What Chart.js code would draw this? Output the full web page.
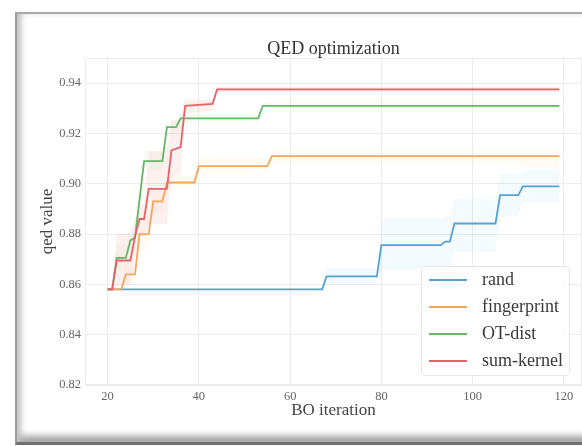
<!DOCTYPE html>
<html lang="en">
<head>
    <meta charset="UTF-8">
    <title>QED optimization</title>
    <script src="https://cdn.jsdelivr.net/npm/chart.js@4.4.1/dist/chart.umd.min.js"></script>
    <style>
        html, body {
            margin: 0;
            padding: 0;
            width: 582px;
            height: 446px;
            overflow: hidden;
            background: #fff;
        }
        .frame {
            position: absolute;
            left: 15px;
            top: 12px;
            width: 600px;
            height: 428px;
            border-top: 2px solid #a9a9a9;
            border-left: 2px solid #9c9c9c;
            border-bottom: 3px solid #707070;
            box-shadow: inset 6px 0 6px -2px #c0c0c0, inset 0 -9px 7px -3px #a0a0a0;
            background: #fff;
        }
        #qedChart {
            position: absolute;
            left: 0;
            top: 0;
        }
    </style>
</head>
<body>
    <div class="frame"></div>
    <canvas id="qedChart" width="582" height="446"></canvas>

    <script>
        // values (iteration where the best-so-far changes)
        const seriesNames = ['rand', 'fingerprint', 'OT-dist', 'sum-kernel'];

        const randIter = [20, 67, 68, 79, 80, 93, 94, 95, 96, 105, 106, 110, 111, 119];
        const randQed  = [0.858, 0.858, 0.8632, 0.8632, 0.8756, 0.8756, 0.877, 0.877, 0.8842, 0.8842, 0.8955, 0.8955, 0.899, 0.899];
        const randHi   = [0.858, 0.858, 0.8665, 0.8665, 0.886, 0.886, 0.887, 0.887, 0.894, 0.894, 0.904, 0.904, 0.9055, 0.9055];
        const randLo   = [0.858, 0.858, 0.860, 0.860, 0.866, 0.866, 0.867, 0.867, 0.873, 0.873, 0.887, 0.887, 0.8925, 0.8925];

        const fpIter = [20, 23, 24, 26, 27, 29, 30, 32, 33, 39, 40, 55, 56, 110, 111, 119];
        const fpQed  = [0.858, 0.858, 0.864, 0.864, 0.880, 0.880, 0.893, 0.893, 0.9005, 0.9005, 0.907, 0.907, 0.911, 0.911, 0.911, 0.911];
        const fpHi   = [0.858, 0.860, 0.868, 0.868, 0.886, 0.886, 0.897, 0.897, 0.903, 0.903, 0.9105, 0.9105, 0.9135, 0.9135, 0.9135, 0.9135];
        const fpLo   = [0.858, 0.858, 0.860, 0.860, 0.874, 0.874, 0.888, 0.888, 0.898, 0.898, 0.904, 0.904, 0.9085, 0.9085, 0.9065, 0.9065];

        const otIter = [20, 21, 22, 24, 25, 26, 28, 32, 33, 35, 36, 53, 54, 119];
        const otQed  = [0.858, 0.858, 0.8705, 0.8705, 0.8775, 0.8785, 0.909, 0.909, 0.9225, 0.9225, 0.926, 0.926, 0.931, 0.931];
        const otHi   = [0.858, 0.858, 0.876, 0.876, 0.882, 0.883, 0.913, 0.913, 0.925, 0.925, 0.928, 0.928, 0.9325, 0.9325];
        const otLo   = [0.858, 0.858, 0.865, 0.865, 0.873, 0.874, 0.905, 0.905, 0.920, 0.920, 0.924, 0.924, 0.9295, 0.9295];

        const skIter = [20, 21, 22, 25, 26, 27, 28, 29, 33, 34, 36, 37, 43, 44, 119];
        const skQed  = [0.858, 0.858, 0.8695, 0.8695, 0.879, 0.886, 0.886, 0.898, 0.898, 0.9133, 0.9146, 0.931, 0.9318, 0.9375, 0.9375];
        const skHi   = [0.858, 0.858, 0.880, 0.880, 0.886, 0.892, 0.892, 0.913, 0.913, 0.925, 0.926, 0.9335, 0.9335, 0.9385, 0.9385];
        const skLo   = [0.858, 0.858, 0.860, 0.860, 0.871, 0.879, 0.879, 0.884, 0.884, 0.902, 0.904, 0.928, 0.929, 0.9365, 0.9365];

        const xTicks = [20, 40, 60, 80, 100, 120];
        const yTicks = [0.82, 0.84, 0.86, 0.88, 0.90, 0.92, 0.94];

        const lineColors = ['#58a2d3', '#f6a65c', '#62b866', '#e5636a'];
        const bandColors = ['rgba(100,195,240,0.07)', 'rgba(250,195,110,0.07)', 'rgba(140,205,120,0.06)', 'rgba(235,130,110,0.11)'];

        const serif = '"Liberation Serif", "Times New Roman", serif';

        const pts = (xs, ys) => xs.map((x, i) => ({ x: x, y: ys[i] }));

        const series = [
            { it: randIter, q: randQed, hi: randHi, lo: randLo },
            { it: fpIter, q: fpQed, hi: fpHi, lo: fpLo },
            { it: otIter, q: otQed, hi: otHi, lo: otLo },
            { it: skIter, q: skQed, hi: skHi, lo: skLo }
        ];

        const datasets = [];
        series.forEach((s, i) => {
            datasets.push({
                label: seriesNames[i] + ' hi',
                data: pts(s.it, s.hi),
                borderWidth: 0,
                pointRadius: 0,
                backgroundColor: bandColors[i],
                fill: '+1',
                order: 20 - i
            });
            datasets.push({
                label: seriesNames[i] + ' lo',
                data: pts(s.it, s.lo),
                borderWidth: 0,
                pointRadius: 0,
                fill: false,
                order: 20 - i
            });
        });
        series.forEach((s, i) => {
            datasets.push({
                label: seriesNames[i],
                data: pts(s.it, s.q),
                borderColor: lineColors[i],
                borderWidth: 1.8,
                pointRadius: 0,
                fill: false,
                order: 5 - i
            });
        });

        // title centred on the plot area, plus frame of the axes
        const plotDecor = {
            id: 'plotDecor',
            beforeDatasetsDraw(chart) {
                const { ctx, chartArea: a } = chart;
                ctx.save();
                ctx.strokeStyle = '#ececec';
                ctx.lineWidth = 1;
                ctx.strokeRect(a.left + 0.5, a.top + 0.5, a.right - a.left - 1, a.bottom - a.top - 1);
                ctx.restore();
            },
            afterDraw(chart) {
                const { ctx, chartArea: a } = chart;
                ctx.save();
                ctx.fillStyle = '#333';
                ctx.font = '18px ' + serif;
                ctx.textAlign = 'center';
                ctx.textBaseline = 'middle';
                ctx.fillText('QED optimization', (a.left + a.right) / 2, 49);
                ctx.restore();
            }
        };

        // legend in the lower right corner of the axes
        const innerLegend = {
            id: 'innerLegend',
            afterDraw(chart) {
                const { ctx, chartArea: a } = chart;
                const w = 148, h = 109;
                const x0 = a.right - 13 - w;
                const y0 = a.bottom - 10 - h;
                ctx.save();
                ctx.fillStyle = 'rgba(255,255,255,0.85)';
                ctx.strokeStyle = '#e6e6e6';
                ctx.lineWidth = 1;
                ctx.beginPath();
                ctx.roundRect(x0 + 0.5, y0 + 0.5, w, h, 3);
                ctx.fill();
                ctx.stroke();
                ctx.font = '18px ' + serif;
                ctx.textBaseline = 'middle';
                seriesNames.forEach((name, i) => {
                    const y = y0 + 14 + i * 27;
                    ctx.strokeStyle = lineColors[i];
                    ctx.lineWidth = 1.8;
                    ctx.beginPath();
                    ctx.moveTo(x0 + 8, y);
                    ctx.lineTo(x0 + 46, y);
                    ctx.stroke();
                    ctx.fillStyle = '#3a3a3a';
                    ctx.fillText(name, x0 + 61, y);
                });
                ctx.restore();
            }
        };

        new Chart(document.getElementById('qedChart'), {
            type: 'line',
            data: { datasets: datasets },
            plugins: [plotDecor, innerLegend],
            options: {
                responsive: false,
                animation: false,
                layout: { padding: { top: 58, left: 0, right: 0, bottom: 0 } },
                plugins: {
                    legend: { display: false },
                    tooltip: { enabled: false },
                    title: { display: false }
                },
                elements: { line: { tension: 0 } },
                scales: {
                    x: {
                        type: 'linear',
                        min: 15.05,
                        max: 123.95,
                        afterBuildTicks: (scale) => { scale.ticks = xTicks.map(v => ({ value: v })); },
                        afterFit: (scale) => { scale.height = 61; },
                        grid: { color: '#ececec', drawTicks: false },
                        border: { display: false },
                        ticks: {
                            padding: 4,
                            color: '#666',
                            font: { family: serif, size: 12.5 },
                            maxRotation: 0,
                            callback: (v) => String(v)
                        },
                        title: {
                            display: true,
                            text: 'BO iteration',
                            color: '#444',
                            font: { family: serif, size: 17 },
                            padding: { top: 0, bottom: 25 }
                        }
                    },
                    y: {
                        min: 0.82,
                        max: 0.95,
                        afterBuildTicks: (scale) => { scale.ticks = yTicks.map(v => ({ value: v })); },
                        afterFit: (scale) => { scale.width = 85; },
                        grid: { color: '#ececec', drawTicks: false },
                        border: { display: false },
                        ticks: {
                            padding: 4,
                            color: '#666',
                            font: { family: serif, size: 12.5 },
                            callback: (v) => Number(v).toFixed(2)
                        },
                        title: {
                            display: true,
                            text: 'qed value',
                            color: '#444',
                            font: { family: serif, size: 17 },
                            padding: { top: 37, bottom: 0 }
                        }
                    }
                }
            }
        });
    </script>
</body>
</html>
